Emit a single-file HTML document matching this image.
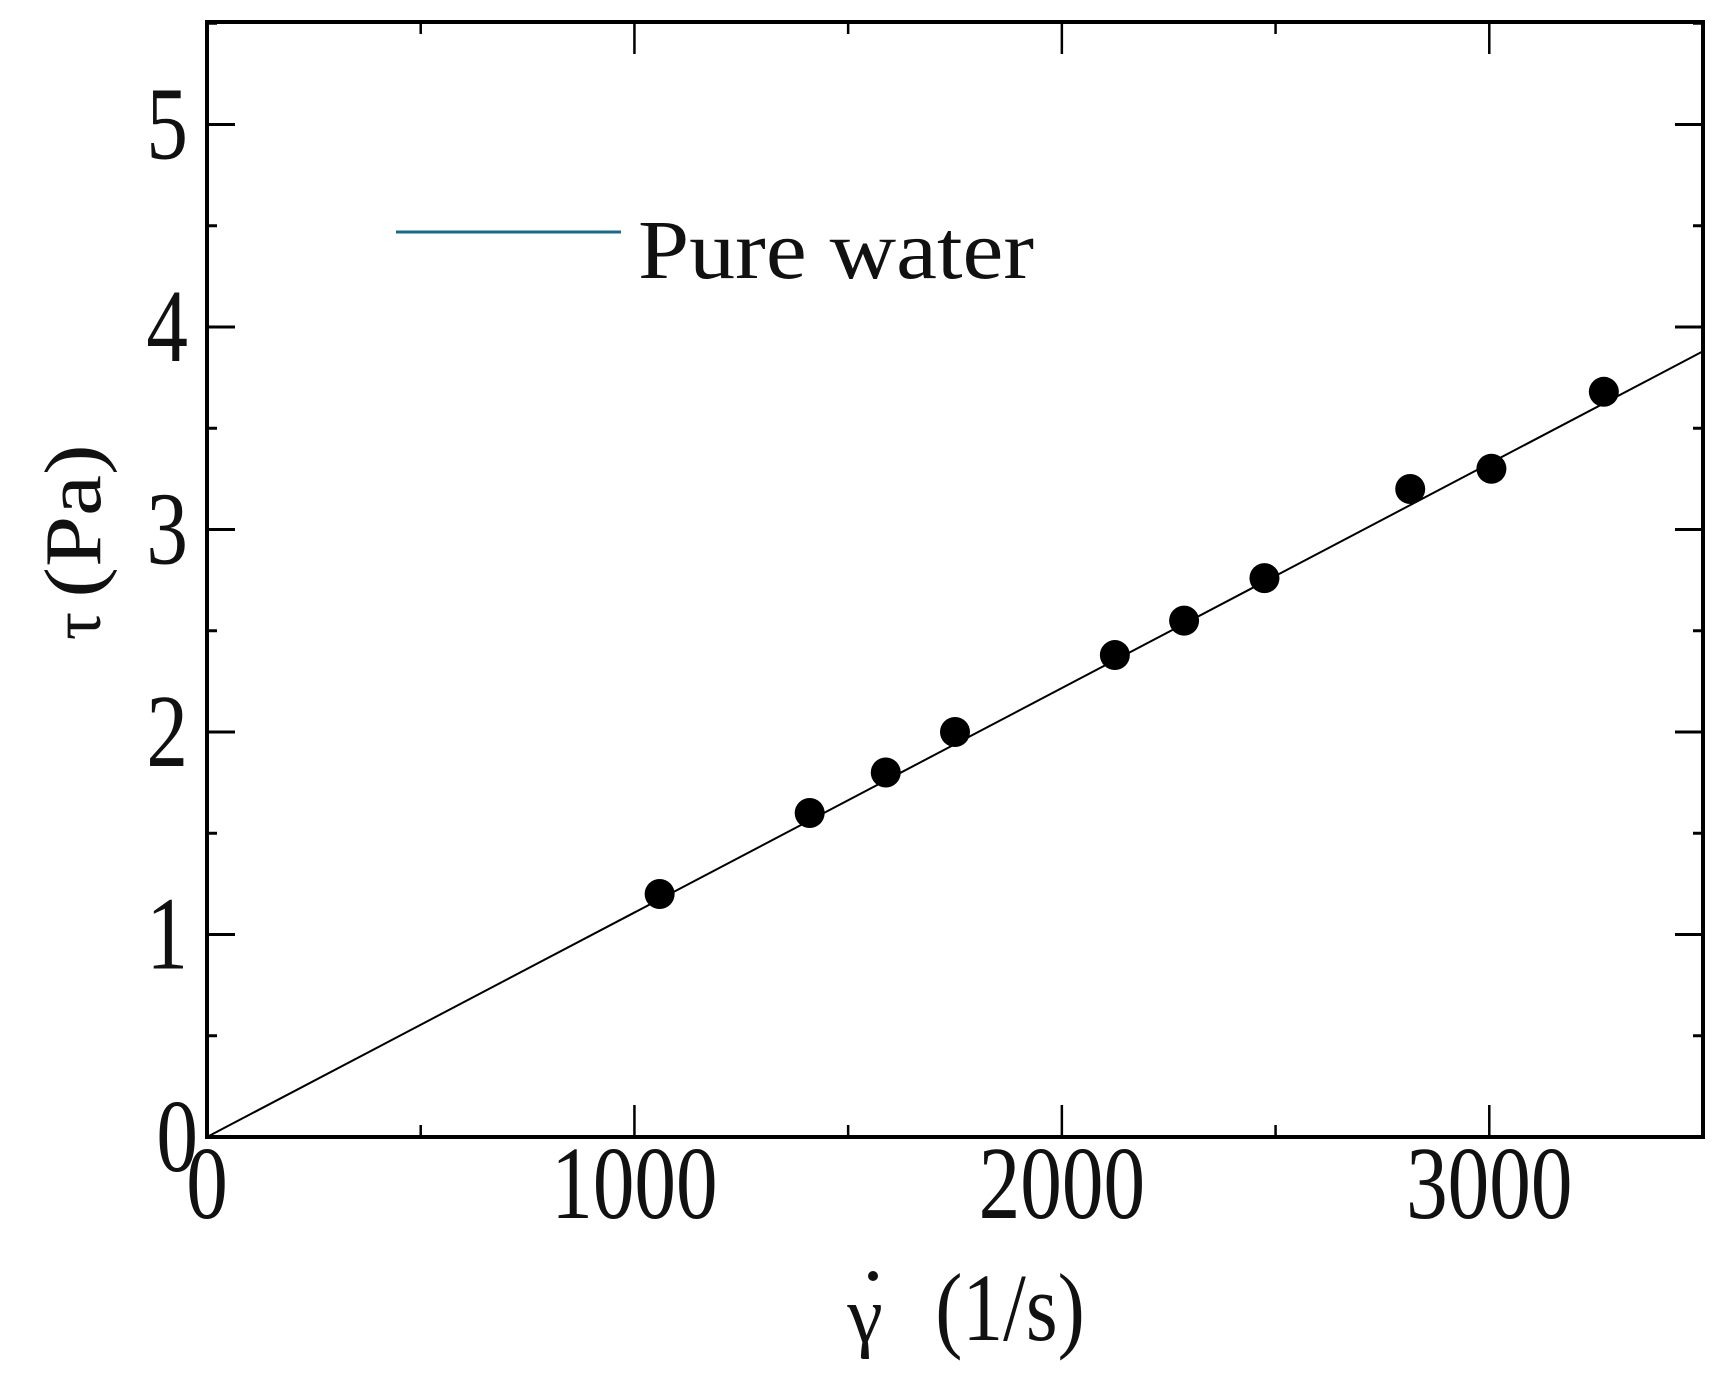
<!DOCTYPE html>
<html><head><meta charset="utf-8"><style>
html,body{margin:0;padding:0;background:#fff}
svg text{font-family:"Liberation Serif",serif;fill:#111}
</style></head><body>
<svg id="chart" width="1716" height="1380" viewBox="0 0 1716 1380" xmlns="http://www.w3.org/2000/svg">
<g id="ticks"></g>
<g id="lines"></g>
<g id="pts"></g>
<rect x="207" y="22" width="1496" height="1115" fill="none" stroke="#000" stroke-width="4"/>
<g>
<line x1="396" y1="232" x2="621" y2="232" stroke="#1a6a86" stroke-width="3"/>
<text x="638" y="278" font-size="84" textLength="396" lengthAdjust="spacingAndGlyphs">Pure water</text>
</g>
<g transform="translate(100,561) rotate(-90)">
<text x="-65" y="0" text-anchor="middle" font-size="70">τ</text>
<text x="40" y="0" text-anchor="middle" font-size="92" transform="scale(1,0.88)">(Pa)</text>
</g>
<g>
<text x="865" y="1342" text-anchor="middle" font-size="80">γ</text>
<circle cx="873" cy="1276" r="5" fill="#111"/>
<text x="1010" y="1340" text-anchor="middle" font-size="96" transform="translate(1010,0) scale(0.85,1) translate(-1010,0)">(1/s)</text>
</g>
</svg>
<script>
const xTicks=[0,1000,2000,3000];
const yTicks=[0,1,2,3,4,5];
const xs=[1059,1410,1588,1750,2124,2286,2474,2815,3005,3268];
const ys=[1.2,1.6,1.8,2.0,2.38,2.55,2.76,3.2,3.3,3.68];
const fitX=[0,3500];
const fitY=[0,3.88];
const X=v=>207+v*(1496/3500);
const Y=v=>1137-v*202.5;
const NS='http://www.w3.org/2000/svg';
function mk(t,a,p){const e=document.createElementNS(NS,t);for(const k in a)e.setAttribute(k,a[k]);p.appendChild(e);return e;}
const tg=document.getElementById('ticks');
for(let v=0;v<=3500;v+=500){const maj=v%1000===0;const L=maj?32:12;
 const a=mk('line',{x1:X(v),x2:X(v),y1:1137,y2:1137-L,stroke:'#000','stroke-width':2.5},tg);
 
 const b=mk('line',{x1:X(v),x2:X(v),y1:22,y2:22+L,stroke:'#000','stroke-width':2.5},tg);
 }
for(let v=0;v<=5.5;v+=0.5){const maj=Math.abs(v-Math.round(v))<1e-9;const L=maj?28:10;
 const a=mk('line',{x1:207,x2:207+L,y1:Y(v),y2:Y(v),stroke:'#000','stroke-width':3},tg);
 
 const b=mk('line',{x1:1703,x2:1703-L,y1:Y(v),y2:Y(v),stroke:'#000','stroke-width':3},tg);
 }
xTicks.forEach(v=>{const x=X(v);const t=mk('text',{x:x,y:1218,'text-anchor':'middle','font-size':104,transform:`translate(${x},0) scale(0.8,1) translate(${-x},0)`},tg);t.textContent=v;
 });
yTicks.forEach(v=>{const x=v===0?198:188;const t=mk('text',{x:x,y:Y(v)+34,'text-anchor':'end','font-size':104,transform:`translate(${x},0) scale(0.8,1) translate(${-x},0)`},tg);t.textContent=v;
 });
const lg=document.getElementById('lines');
const ln=mk('line',{x1:X(fitX[0]),y1:Y(fitY[0]),x2:X(fitX[1]),y2:Y(fitY[1]),stroke:'#000','stroke-width':2},lg);

const pg=document.getElementById('pts');
xs.forEach((x,i)=>{const c=mk('circle',{cx:X(x),cy:Y(ys[i]),r:15,fill:'#000'},pg);
 });
</script>
</body></html>
